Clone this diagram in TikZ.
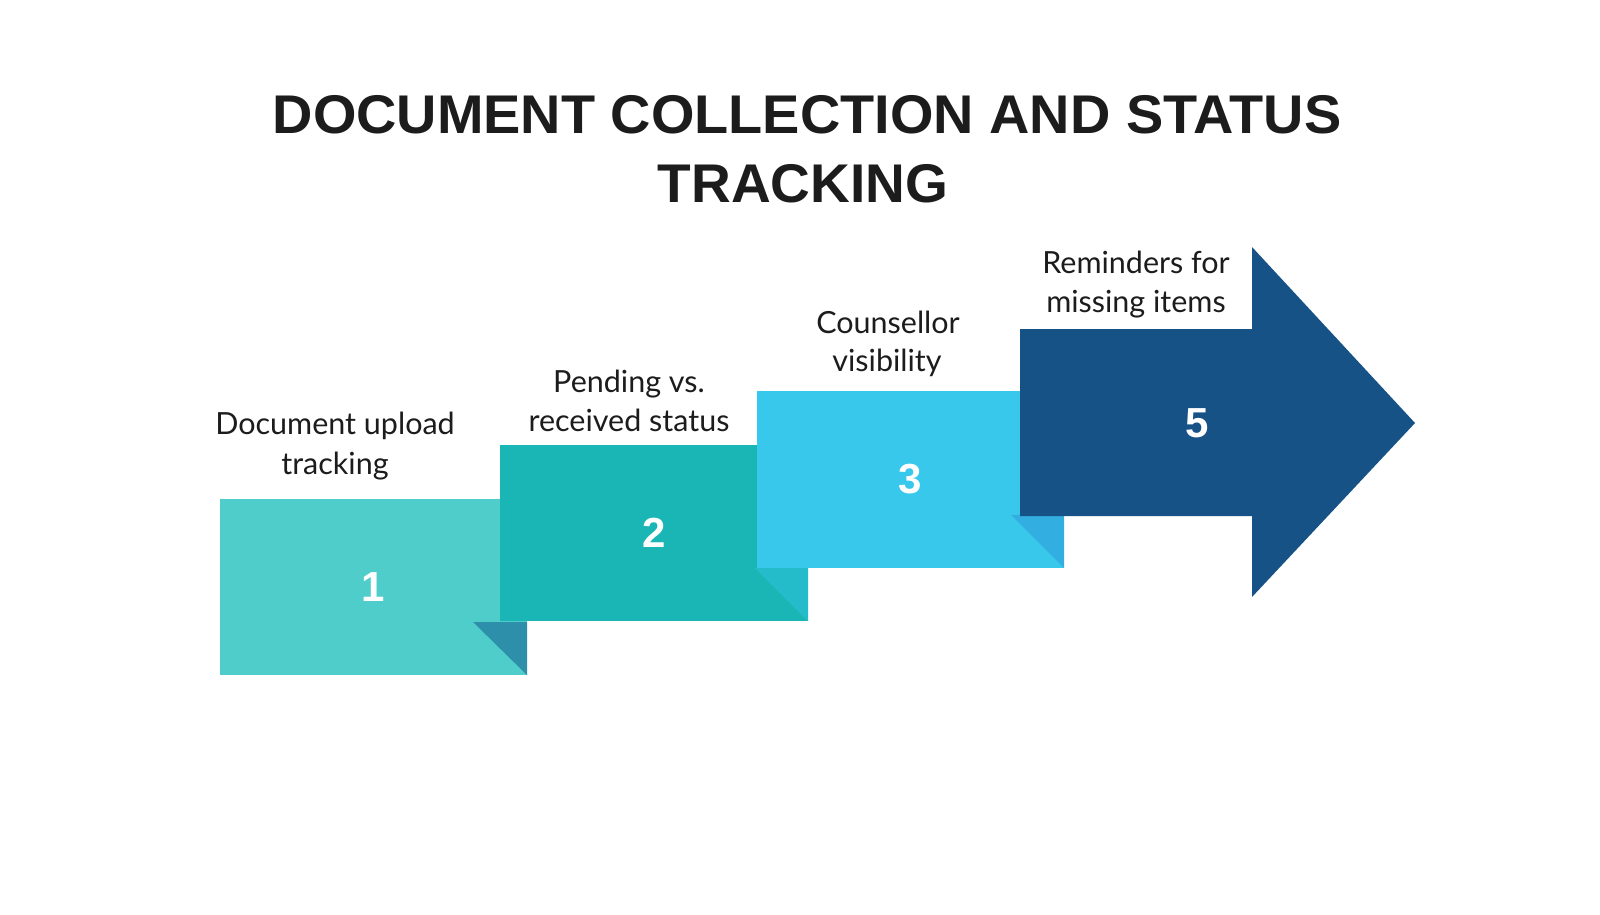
\documentclass[tikz,border=0pt]{standalone}
\usepackage{fontspec}
\setmainfont{Liberation Sans}
\newfontfamily\labelfont{Lato}
\newfontfamily\titlefont{Liberation Sans Bold}
\newfontfamily\numfont{Liberation Sans Bold}
\definecolor{cA}{HTML}{4FCDCB}
\definecolor{fA}{HTML}{2E8FAA}
\definecolor{cB}{HTML}{1AB5B5}
\definecolor{fB}{HTML}{24BCCB}
\definecolor{cC}{HTML}{38C8EC}
\definecolor{fC}{HTML}{33AEE0}
\definecolor{cD}{HTML}{175287}
\definecolor{ink}{HTML}{1C1C1C}
\begin{document}
\begin{tikzpicture}[x=1pt,y=-1pt,
  lbl/.style={font=\labelfont\fontsize{30.5}{36}\selectfont, text=ink, anchor=base, inner sep=0pt},
  ttl/.style={font=\titlefont\fontsize{54.5}{64}\selectfont, text=ink, anchor=base, inner sep=0pt},
  num/.style={font=\numfont\fontsize{42}{48}\selectfont, text=white, anchor=center, inner sep=0pt}]
\useasboundingbox[fill=white] (0,0) rectangle (1600,914);
% title
\node[ttl] (t1) at (807,133) {\scalebox{1.025}[1]{DOCUMENT COLLECTION AND STATUS}};
\node[ttl] (t2) at (803,202) {\scalebox{1.01}[1]{TRACKING}};
% step 1
\fill[cA] (220,499) rectangle (527,675);
\fill[fA] (473,622) -- (527,622) -- (527,675) -- cycle;
% step 2
\fill[cB] (500,445) rectangle (808,621);
\fill[fB] (755,568) -- (808,568) -- (808,621) -- cycle;
% step 3
\fill[cC] (757,391) rectangle (1064,568);
\fill[fC] (1011,515) -- (1064,515) -- (1064,568) -- cycle;
% arrow
\fill[cD] (1020,329) -- (1252,329) -- (1252,247) -- (1415,423) -- (1252,597) -- (1252,516) -- (1020,516) -- cycle;
% numbers
\node[num] (n1) at (373,587) {1};
\node[num] (n2) at (654,533) {2};
\node[num] (n3) at (910,479) {3};
\node[num] (n5) at (1197,423) {5};
% labels
\node[lbl] (l1a) at (335,434) {Document upload};
\node[lbl] (l1b) at (335,474) {tracking};
\node[lbl] (l2a) at (629,392) {Pending vs.};
\node[lbl] (l2b) at (629,431) {received status};
\node[lbl] (l3a) at (888,333) {Counsellor};
\node[lbl] (l3b) at (887,371) {visibility};
\node[lbl] (l5a) at (1136,273) {Reminders for};
\node[lbl] (l5b) at (1136,312) {missing items};
\end{tikzpicture}
\end{document}
